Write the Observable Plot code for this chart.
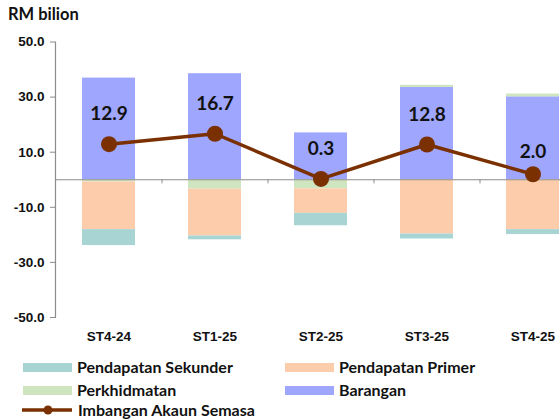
<!DOCTYPE html>
<html>
<head>
<meta charset="utf-8">
<script src="https://cdn.jsdelivr.net/npm/d3@7"></script>
<script src="https://cdn.jsdelivr.net/npm/@observablehq/plot@0.6"></script>
<style>
  html, body { margin: 0; padding: 0; background: #fff; overflow: hidden; }
  #wrap { position: relative; width: 560px; height: 420px; }
  #unit { position: absolute; left: 8px; top: 4px; font: bold 16.5px "Lato", sans-serif; color: #111; }
  #legend { position: absolute; left: 0; top: 356px; width: 560px; font: bold 16px "Lato", sans-serif; color: #111; line-height: 18px; }
  .li { position: absolute; display: flex; align-items: center; white-space: nowrap; height: 18px; }
  .sw { width: 49px; height: 9px; margin-right: 5px; }
</style>
</head>
<body>
<div id="wrap">
  <div id="chart"></div>
  <div id="unit">RM bilion</div>
  <div id="legend"></div>
</div>
<script>
const quarters = ["ST4-24", "ST1-25", "ST2-25", "ST3-25", "ST4-25"];
const barangan = [36.9, 38.5, 17.0, 33.5, 30.1];
const perkhidmatan = [-0.8, -3.4, -3.3, 0.8, 1.0];
const pendapatanPrimer = [-17.3, -17.0, -8.9, -19.7, -18.1];
const pendapatanSekunder = [-5.8, -1.4, -4.5, -1.8, -1.8];
const imbangan = [12.9, 16.7, 0.3, 12.8, 2.0];
const yTicks = [50, 30, 10, -10, -30, -50];

const seriesNames = ["Barangan", "Perkhidmatan", "Pendapatan Primer", "Pendapatan Sekunder"];
const seriesValues = [barangan, perkhidmatan, pendapatanPrimer, pendapatanSekunder];
const colors = {
  "Barangan": "#9ea6fd",
  "Perkhidmatan": "#cfe5c0",
  "Pendapatan Primer": "#fdcdab",
  "Pendapatan Sekunder": "#a9d4d4"
};
const lineColor = "#7a3000";

const stacked = [];
seriesNames.forEach((s, si) => {
  quarters.forEach((q, qi) => stacked.push({q, s, v: seriesValues[si][qi]}));
});
const balance = quarters.map((q, i) => ({q, v: imbangan[i]}));

const axisFont = '"Liberation Sans", Arial, sans-serif';
const labelFont = '"Lato", sans-serif';

const plot = Plot.plot({
  width: 560,
  height: 352,
  marginLeft: 55,
  marginRight: -25,
  marginTop: 41.5,
  marginBottom: 35,
  style: {fontFamily: axisFont, fontSize: "13px", fontWeight: "bold", color: "#111", background: "#fff"},
  x: {domain: quarters, paddingInner: 0.5, paddingOuter: 0.25, label: null},
  y: {domain: [-50, 50], label: null},
  color: {domain: seriesNames, range: seriesNames.map(s => colors[s])},
  marks: [
    Plot.barY(stacked, {x: "q", y: "v", fill: "s", order: seriesNames, insetLeft: 0, insetRight: 0}),
    Plot.ruleY([0], {stroke: "#8c8c8c", strokeWidth: 1.2}),
    Plot.ruleX(quarters.slice(0, -1), {x: d => d, y1: 0, y2: -1.5, dx: 53, stroke: "#8c8c8c"}),
    Plot.frame({anchor: "left", stroke: "#8c8c8c", strokeWidth: 1.2}),
    Plot.axisY({ticks: yTicks, tickFormat: d => d.toFixed(1), tickSize: 5, tickPadding: 6, stroke: "#8c8c8c", fontSize: 13.5, fontWeight: "bold", label: null}),
    Plot.axisX({tickSize: 0, tickPadding: 14, fontSize: 13.5, fontWeight: "bold", label: null}),
    Plot.lineY(balance, {x: "q", y: "v", stroke: lineColor, strokeWidth: 3.5}),
    Plot.dot(balance, {x: "q", y: "v", r: 8, fill: lineColor}),
    Plot.text(balance.filter((d, i) => i < 4), {x: "q", y: "v", text: d => d.v.toFixed(1), dy: -30, fontSize: 19, fontWeight: "bold", fontFamily: labelFont, fill: "#111"}),
    Plot.text(balance.filter((d, i) => i === 4), {x: "q", y: "v", text: d => d.v.toFixed(1), dy: -22, fontSize: 19, fontWeight: "bold", fontFamily: labelFont, fill: "#111"})
  ]
});
document.getElementById("chart").appendChild(plot);

// Legend
const legendItems = [
  {name: "Pendapatan Sekunder", left: 23, top: 2},
  {name: "Pendapatan Primer", left: 285, top: 2},
  {name: "Perkhidmatan", left: 23, top: 25},
  {name: "Barangan", left: 285, top: 25}
];
const legend = document.getElementById("legend");
legendItems.forEach(it => {
  const el = document.createElement("div");
  el.className = "li";
  el.style.left = it.left + "px";
  el.style.top = it.top + "px";
  el.innerHTML = `<span class="sw" style="background:${colors[it.name]}"></span><span>${it.name}</span>`;
  legend.appendChild(el);
});
const lineItem = document.createElement("div");
lineItem.className = "li";
lineItem.style.left = "22px";
lineItem.style.top = "45px";
lineItem.innerHTML = `<svg width="51" height="14" style="margin-right:5px"><line x1="0" y1="7" x2="50" y2="7" stroke="${lineColor}" stroke-width="3.5"/><circle cx="26" cy="7" r="4.5" fill="${lineColor}"/></svg><span>Imbangan Akaun Semasa</span>`;
legend.appendChild(lineItem);
</script>
</body>
</html>
